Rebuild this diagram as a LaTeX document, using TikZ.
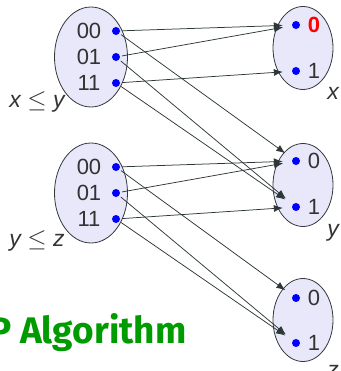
\documentclass[tikz,border=0pt]{standalone}
\usepackage{fontspec}
\setmainfont{Liberation Sans}
\newfontfamily\firab{Fira Sans}
\usetikzlibrary{arrows.meta,shapes.geometric}
\definecolor{ellfill}{RGB}{232,232,250}
\definecolor{elldraw}{RGB}{50,55,60}
\definecolor{arrcol}{RGB}{45,55,55}
\definecolor{titlegreen}{RGB}{0,155,0}
\tikzset{
  ell/.style={ellipse, draw=elldraw, fill=ellfill, line width=0.8pt, inner sep=0pt},
  dot/.style={circle, fill=blue, inner sep=0pt, minimum size=8pt},
  val/.style={font=\fontsize{22}{22}\selectfont, text=black!80, inner sep=0pt},
  lab/.style={font=\fontsize{23}{23}\selectfont\itshape, text=black!80, inner sep=0pt},
  arr/.style={draw=arrcol, line width=0.75pt, -{Latex[length=9pt,width=7pt]}, shorten <=2pt, shorten >=9pt},
}
\begin{document}
\begin{tikzpicture}[x=1pt,y=-1pt]
\useasboundingbox (0,0) rectangle (340,371);
% ellipses
\node[ell, minimum width=73pt, minimum height=100pt] (C1) at (91,57) {};
\node[ell, minimum width=73pt, minimum height=100pt] (C2) at (91,193) {};
\node[ell, minimum width=60pt, minimum height=83pt] (X) at (303,48) {};
\node[ell, minimum width=60pt, minimum height=83pt] (Y) at (303,185) {};
\node[ell, minimum width=60pt, minimum height=83pt] (Z) at (303,320) {};
% left values
\node[val] (t100) at (89,31) {00};
\node[val] (t101) at (89,57) {01};
\node[val] (t111) at (89,83) {11};
\node[val] (t200) at (89,167) {00};
\node[val] (t201) at (89,193) {01};
\node[val] (t211) at (89,219) {11};
\node[dot] (a00) at (116,31) {};
\node[dot] (a01) at (116,57) {};
\node[dot] (a11) at (116,83) {};
\node[dot] (b00) at (116,167) {};
\node[dot] (b01) at (116,193) {};
\node[dot] (b11) at (116,219) {};
% right values
\node[dot] (x0) at (296,25) {};
\node[dot] (x1) at (296,71) {};
\node[dot] (y0) at (296,161) {};
\node[dot] (y1) at (296,207) {};
\node[dot] (z0) at (296,298) {};
\node[dot] (z1) at (296,343) {};
\node[val, text=red, font=\fontsize{22}{22}\selectfont\bfseries] (tx0) at (314,25) {0};
\node[val] (tx1) at (314,71) {1};
\node[val] (ty0) at (314,161) {0};
\node[val] (ty1) at (314,207) {1};
\node[val] (tz0) at (314,298) {0};
\node[val] (tz1) at (314,343) {1};
% labels
\node[lab, anchor=base] (lc1) at (37,108) {x $\leq$ y};
\node[lab, anchor=base] (lc2) at (37,246) {y $\leq$ z};
\node[lab, anchor=base] (lx) at (333,100) {x};
\node[lab, anchor=base] (ly) at (333,236) {y};
\node[lab, anchor=base] (lz) at (333,377) {z};
% arrows
\draw[arr] (a00) -- (x0);
\draw[arr] (a00) -- (y0);
\draw[arr] (a01) -- (x0);
\draw[arr] (a01) -- (y1);
\draw[arr] (a11) -- (x1);
\draw[arr] (a11) -- (y1);
\draw[arr] (b00) -- (y0);
\draw[arr] (b00) -- (z0);
\draw[arr] (b01) -- (y0);
\draw[arr] (b01) -- (z1);
\draw[arr] (b11) -- (y1);
\draw[arr] (b11) -- (z1);
% title
\node[anchor=base west, inner sep=0pt, text=titlegreen, font=\firab\bfseries\fontsize{37}{37}\selectfont] (title) at (-11,343) {P Algorithm};
\end{tikzpicture}
\end{document}
